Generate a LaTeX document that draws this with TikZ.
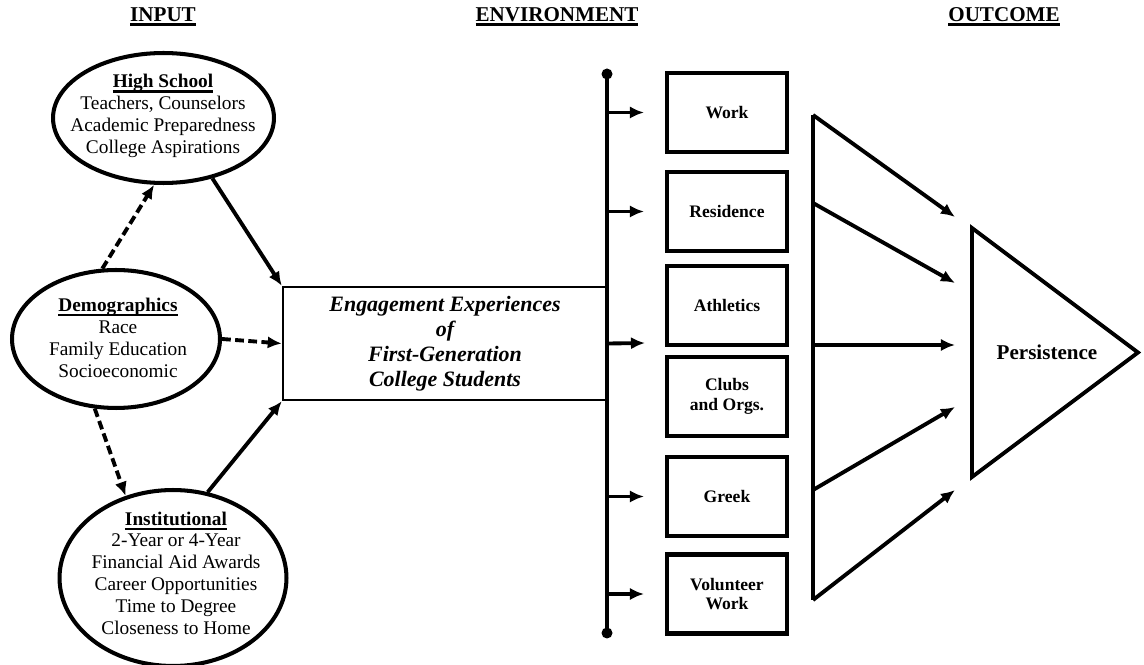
\documentclass[tikz,border=0pt]{standalone}
\usepackage{fontspec}
\setmainfont{Liberation Serif}
\usetikzlibrary{shapes.geometric,arrows.meta}

% 太い下線
\newcommand{\ulthick}[2][1.2pt]{\setbox0\hbox{#2}\usebox0\llap{\rule[-2.6pt]{\wd0}{#1}}}

\begin{document}
\begin{tikzpicture}[x=0.02cm, y=-0.02cm,
    title/.style={font=\fontsize{12}{14}\selectfont\bfseries},
    oval/.style={ellipse, draw, line width=2.3pt, inner sep=0pt},
    ovaltext/.style={align=center, font=\fontsize{11}{12.4}\selectfont},
    envbox/.style={rectangle, draw, line width=2.3pt, minimum width=2.4cm, minimum height=1.58cm, align=center, font=\fontsize{10}{11.3}\selectfont\bfseries},
    arr/.style={-{Latex[length=8pt,width=7pt]}, line width=2.2pt},
    darr/.style={arr, dash pattern=on 5pt off 2.5pt}]
    \useasboundingbox (0,0) rectangle (1144,665);

    % 見出し
    \node[title] (input) at (163,17) {\ulthick[1.8pt]{INPUT}};
    \node[title] (environment) at (557,17) {\ulthick[1.8pt]{ENVIRONMENT}};
    \node[title] (outcome) at (1004,17) {\ulthick[1.8pt]{OUTCOME}};

    % 入力側の楕円
    \node[oval, minimum width=4.42cm, minimum height=2.6cm] (hs) at (163.5,118) {};
    \node[ovaltext] (hstext) at (163,116) {\ulthick{\textbf{High School}}\\Teachers, Counselors\\Academic Preparedness\\College Aspirations};
    \node[oval, minimum width=4.16cm, minimum height=2.76cm] (demo) at (116,339) {};
    \node[ovaltext] (demotext) at (118,338) {\ulthick{\textbf{Demographics}}\\Race\\Family Education\\Socioeconomic};
    \node[oval, minimum width=4.54cm, minimum height=3.52cm] (inst) at (173,578) {};
    \node[ovaltext] (insttext) at (176,573) {\ulthick{\textbf{Institutional}}\\2-Year or 4-Year\\Financial Aid Awards\\Career Opportunities\\Time to Degree\\Closeness to Home};

    % 中央の箱
    \node[rectangle, draw, line width=1.4pt, minimum width=6.48cm, minimum height=2.26cm, align=center,
          font=\fontsize{12.5}{14.2}\selectfont\bfseries\itshape] (eng) at (445,343.5)
          {Engagement Experiences\\of\\First-Generation\\College Students};

    % 入力から中央へのエッジ
    \draw[arr] (hs.-51) -- (eng.north west);
    \draw[arr] (inst.68) -- (eng.south west);
    \draw[darr] (demo.east) -- (eng.west);
    \draw[darr] (demo.101) -- (hs.262);
    \draw[darr] (demo.253) -- (inst.120);

    % 縦の線と環境の箱
    \coordinate (bt) at (607,74);
    \coordinate (bb) at (607,633);
    \draw[line width=2.2pt] (bt) -- (bb);
    \fill (bt) circle (0.11cm);
    \fill (bb) circle (0.11cm);

    \node[envbox] (work) at (727,112.5) {Work};
    \node[envbox] (res) at (727,211.5) {Residence};
    \node[envbox] (ath) at (727,305.5) {Athletics};
    \node[envbox] (clubs) at (727,396.5) {Clubs\\and Orgs.};
    \node[envbox] (greek) at (727,496.5) {Greek};
    \node[envbox] (vol) at (727,594) {Volunteer\\Work};

    \coordinate (mid) at (645,343);
    \draw[arr, shorten >=0.42cm] (bt |- work) -- (work);
    \draw[arr, shorten >=0.42cm] (bt |- res) -- (res);
    \draw[arr] (eng.east) -- (mid);
    \draw[arr, shorten >=0.42cm] (bt |- greek) -- (greek);
    \draw[arr, shorten >=0.42cm] (bt |- vol) -- (vol);

    % 結果側
    \coordinate (f1) at (813,115);
    \coordinate (f2) at (813,203);
    \coordinate (f3) at (813,345);
    \coordinate (f4) at (813,490);
    \coordinate (f5) at (813,600);
    \coordinate (t1) at (955,217);
    \coordinate (t2) at (955,283);
    \coordinate (t3) at (955,345);
    \coordinate (t4) at (955,407);
    \coordinate (t5) at (955,490);
    \draw[line width=2.2pt] (f1) -- (f5);
    \draw[arr] (f1) -- (t1);
    \draw[arr] (f2) -- (t2);
    \draw[arr] (f3) -- (t3);
    \draw[arr] (f4) -- (t4);
    \draw[arr] (f5) -- (t5);

    \draw[line width=2.2pt] (972,228) -- (1138,352.5) -- (972,477) -- cycle;
    \node[font=\fontsize{12}{14}\selectfont\bfseries] (pers) at (1047,352) {Persistence};
\end{tikzpicture}
\end{document}
